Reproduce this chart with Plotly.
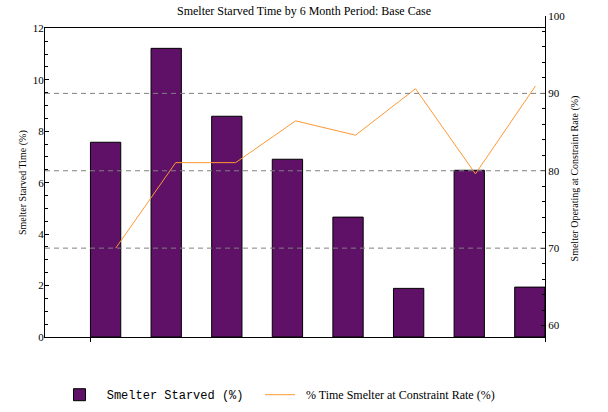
import plotly.graph_objects as go

# ---- data ----
periods = [1, 2, 3, 4, 5, 6, 7, 8]
starved_pct = [7.57, 11.22, 8.58, 6.91, 4.66, 1.89, 6.48, 1.94]
constraint_pct = [70.0, 81.05, 81.05, 86.45, 84.6, 90.6, 79.6, 90.95]
left_ticks = [0, 2, 4, 6, 8, 10, 12]
right_ticks = [60, 70, 80, 90, 100]
grid_vals = [70, 80, 90]

BAR_W = 0.5
PURPLE = "#5f1067"
ORANGE = "#ff9933"
SERIF = "Liberation Serif, Times New Roman, serif"
MONO = "Liberation Mono, Courier New, monospace"

fig = go.Figure()
fig.add_trace(go.Bar(
    x=periods, y=starved_pct, width=BAR_W,
    name="\u00a0Smelter Starved (%)",
    marker=dict(color=PURPLE, line=dict(color="black", width=1)),
    xaxis="x", yaxis="y", legend="legend",
))
fig.add_trace(go.Scatter(
    x=periods, y=constraint_pct, mode="lines",
    name="\u00a0\u00a0% Time Smelter at Constraint Rate (%)",
    line=dict(color=ORANGE, width=1),
    xaxis="x2", yaxis="y2", legend="legend2",
))

# dashed reference lines at the right-axis values
for v in grid_vals:
    fig.add_shape(type="line", xref="paper", x0=0, x1=1, yref="y2", y0=v, y1=v,
                  line=dict(color="#808080", width=1, dash="5px,4px"), layer="above")

fig.update_layout(
    width=608, height=412, autosize=False,
    margin=dict(l=45, r=63, t=16, b=71, pad=0, autoexpand=False),
    paper_bgcolor="white", plot_bgcolor="rgba(0,0,0,0)",
    font=dict(family=SERIF, size=11, color="black"),
    title=dict(text="Smelter Starved Time by 6 Month Period: Base Case",
               x=0.5, xref="container", xanchor="center",
               y=0.973, yref="container", yanchor="middle",
               font=dict(size=12, family=SERIF, color="black")),
    xaxis=dict(domain=[0, 1], range=[0, 8.25], anchor="y", automargin=False,
               showline=True, linecolor="black", linewidth=1, mirror=True,
               tickmode="array",
               tickvals=[periods[0] - BAR_W / 2, periods[-1] + BAR_W / 2],
               ticks="outside", ticklen=4, tickcolor="black",
               showticklabels=False, showgrid=False, zeroline=False),
    yaxis=dict(domain=[0.0123, 0.9622], range=[0, 12], anchor="x", automargin=False,
               tickmode="array", tickvals=left_ticks,
               ticks="inside", ticklen=4, tickcolor="black",
               minor=dict(tickmode="linear", tick0=0, dtick=0.5, ticks="inside",
                          ticklen=3, tickcolor="black"),
               showline=True, linecolor="black", linewidth=1,
               showgrid=False, zeroline=False,
               tickfont=dict(size=11), ticklabelstandoff=-2,
               title=dict(text="Smelter Starved Time (%)", font=dict(size=10), standoff=4)),
    xaxis2=dict(domain=[0, 1], range=[-0.18, 8.16], anchor="y2", visible=False,
                automargin=False),
    yaxis2=dict(domain=[0, 1], range=[58, 100], anchor="x2", side="right", automargin=False,
                tickmode="array", tickvals=right_ticks,
                ticks="inside", ticklen=4, tickcolor="black",
                minor=dict(tickmode="linear", tick0=60, dtick=2, ticks="inside",
                           ticklen=3, tickcolor="black"),
                showline=True, linecolor="black", linewidth=1,
                showgrid=False, zeroline=False,
                tickfont=dict(size=11),
                title=dict(text="Smelter Operating at Constraint Rate (%)",
                           font=dict(size=10), standoff=6)),
    legend=dict(x=0.029, xanchor="left", y=0.042, yref="container", yanchor="middle",
                orientation="h", font=dict(family=MONO, size=12, color="black"),
                bgcolor="rgba(0,0,0,0)", borderwidth=0),
    legend2=dict(x=0.43, xanchor="left", y=0.042, yref="container", yanchor="middle",
                 orientation="h", font=dict(family=SERIF, size=12, color="black"),
                 bgcolor="rgba(0,0,0,0)", borderwidth=0),
    showlegend=True,
)

fig.write_html("out.html",
               config={"displayModeBar": False},
               post_script="document.body.style.margin='0';document.body.style.padding='0';")
